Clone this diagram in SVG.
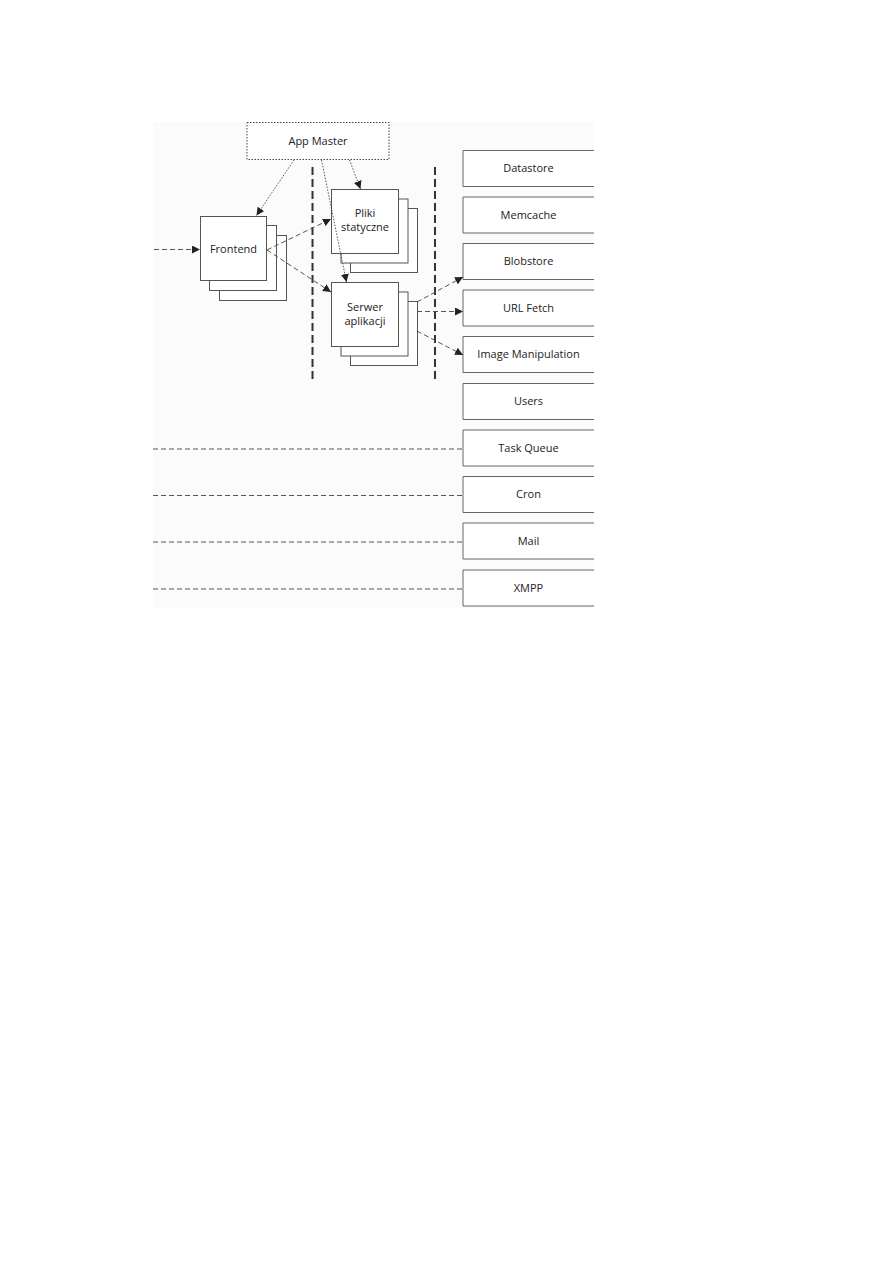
<svg xmlns="http://www.w3.org/2000/svg" width="893" height="1263" viewBox="0 0 893 1263">
<defs>
<style>
text{font-family:"Open Sans","Noto Sans","Liberation Sans",sans-serif;font-size:11px;fill:#222;text-anchor:middle}
.box{fill:#fff;stroke:#555;stroke-width:1}
.svc{fill:#fff;stroke:#666;stroke-width:1}
.dash{fill:none;stroke:#555;stroke-width:1;stroke-dasharray:5 3}
.dot{fill:none;stroke:#444;stroke-width:0.9;stroke-dasharray:1.5 1.5}
.sep{fill:none;stroke:#333;stroke-width:2;stroke-dasharray:8 4}
</style>
<marker id="ah" viewBox="0 0 10 10" refX="10" refY="5" markerWidth="8" markerHeight="8" markerUnits="userSpaceOnUse" orient="auto">
<path d="M0,0 L10,5 L0,10 z" fill="#222"/>
</marker>
</defs>
<rect x="0" y="0" width="893" height="1263" fill="#fff"/>
<rect x="153" y="122" width="441" height="486" fill="#fbfbfb"/>

<g id="separators">
<line class="sep" x1="312.5" y1="167" x2="312.5" y2="382"/>
<line class="sep" x1="435" y1="167" x2="435" y2="382"/>
</g>

<g id="app-master">
<rect x="247" y="122.5" width="142" height="37" fill="#fff" stroke="#444" stroke-width="1" stroke-dasharray="1.5 1.5"/>
<text x="318" y="145">App Master</text>
</g>

<g id="frontend">
<rect class="box" x="219.5" y="235.5" width="67" height="65"/>
<rect class="box" x="209.5" y="225.5" width="67" height="65"/>
<rect class="box" x="200.5" y="216.5" width="66" height="64"/>
<text x="233.5" y="253">Frontend</text>
</g>

<g id="pliki-statyczne">
<rect class="box" x="350.5" y="208.5" width="67" height="64"/>
<rect class="box" x="341" y="199" width="67" height="64"/>
<rect class="box" x="331.5" y="189.5" width="67" height="64"/>
<text x="365" y="217">Pliki</text>
<text x="365" y="231">statyczne</text>
</g>

<g id="serwer-aplikacji">
<rect class="box" x="350.5" y="301.5" width="67" height="64"/>
<rect class="box" x="341" y="292" width="67" height="64"/>
<rect class="box" x="331.5" y="282.5" width="67" height="64"/>
<text x="365" y="311">Serwer</text>
<text x="365" y="325">aplikacji</text>
</g>

<g id="datastore"><path class="svc" d="M594,150.5 H463 V186.5 H594"/><text x="528.5" y="172">Datastore</text></g>
<g id="memcache"><path class="svc" d="M594,197 H463 V233 H594"/><text x="528.5" y="219">Memcache</text></g>
<g id="blobstore"><path class="svc" d="M594,243.5 H463 V279.5 H594"/><text x="528.5" y="265">Blobstore</text></g>
<g id="url-fetch"><path class="svc" d="M594,290 H463 V326 H594"/><text x="528.5" y="312">URL Fetch</text></g>
<g id="image-manipulation"><path class="svc" d="M594,336.5 H463 V372.5 H594"/><text x="528.5" y="358">Image Manipulation</text></g>
<g id="users"><path class="svc" d="M594,383.5 H463 V419.5 H594"/><text x="528.5" y="405">Users</text></g>
<g id="task-queue"><path class="svc" d="M594,430 H463 V466 H594"/><text x="528.5" y="452">Task Queue</text></g>
<g id="cron"><path class="svc" d="M594,476.5 H463 V512.5 H594"/><text x="528.5" y="498">Cron</text></g>
<g id="mail"><path class="svc" d="M594,523 H463 V559 H594"/><text x="528.5" y="545">Mail</text></g>
<g id="xmpp"><path class="svc" d="M594,570 H463 V606 H594"/><text x="528.5" y="592">XMPP</text></g>

<g id="connectors">
<line class="dash" x1="154" y1="249.5" x2="200" y2="249.5" marker-end="url(#ah)"/>
<line class="dot" x1="294" y1="160" x2="256.5" y2="215.5" marker-end="url(#ah)"/>
<line class="dot" x1="349.5" y1="160" x2="360.5" y2="189" marker-end="url(#ah)"/>
<line class="dot" x1="321.5" y1="160" x2="346.5" y2="282" marker-end="url(#ah)"/>
<line class="dash" x1="267" y1="250" x2="331" y2="219" marker-end="url(#ah)"/>
<line class="dash" x1="267" y1="250" x2="331" y2="292" marker-end="url(#ah)"/>
<line class="dash" x1="417" y1="302" x2="463" y2="277" marker-end="url(#ah)"/>
<line class="dash" x1="417" y1="311.5" x2="463" y2="311.5" marker-end="url(#ah)"/>
<line class="dash" x1="417" y1="331" x2="463" y2="355" marker-end="url(#ah)"/>
<line class="dash" x1="153" y1="449" x2="463" y2="449"/>
<line class="dash" x1="153" y1="495.5" x2="463" y2="495.5"/>
<line class="dash" x1="153" y1="542" x2="463" y2="542"/>
<line class="dash" x1="153" y1="589" x2="463" y2="589"/>
</g>
</svg>
